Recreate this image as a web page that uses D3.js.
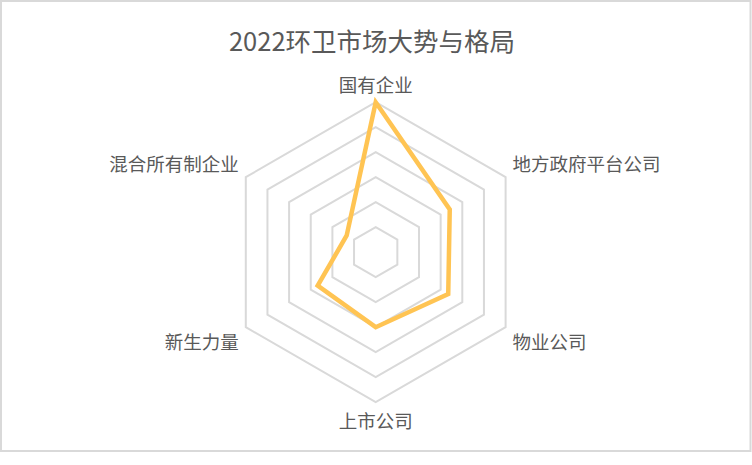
<!DOCTYPE html>
<html>
    <head>
        <meta charset="utf-8">
        <style>
            body { margin: 0; background: #fff; }
            text { font-family: "Noto Sans CJK SC", "Noto Sans", sans-serif; }
        </style>
    </head>
    <body>

        <svg id="radar"></svg>

        <script src="https://cdn.jsdelivr.net/npm/d3@7/dist/d3.min.js"></script>
        <script>

            let title = "2022环卫市场大势与格局";
            let categories = ["国有企业", "地方政府平台公司", "物业公司", "上市公司", "新生力量", "混合所有制企业"];
            let values = [6, 3.42, 3.35, 3.0, 2.68, 1.34];
            let levels = [1, 2, 3, 4, 5, 6];

            let width = 752;
            let height = 465;
            let cx = 375.7;
            let cy = 252.2;
            let radius = 150;

            let container = d3.select("#radar")
                                .attr("width", width)
                                .attr("height", height);

            // frame
            container.append("rect")
                .attr("x", 1).attr("y", 1)
                .attr("width", width - 2.5).attr("height", 450)
                .attr("fill", "white")
                .attr("stroke", "#d9d9d9")
                .attr("stroke-width", 2);

            container.append("text")
                .attr("x", 372)
                .attr("y", 39)
                .attr("text-anchor", "middle")
                .attr("dominant-baseline", "central")
                .attr("font-size", 25.5)
                .attr("fill", "#595959")
                .text(title);

            let r = d3.scaleLinear().domain([0, 6]).range([0, radius]);
            let angle = d3.scalePoint().domain(categories.concat(["_end"])).range([0, 2 * Math.PI]);

            let g = container.append("g").attr("transform", `translate(${cx},${cy})`);

            let ring = d3.lineRadial()
                            .angle(d => angle(d.cat))
                            .radius(d => r(d.v))
                            .curve(d3.curveLinearClosed);

            g.append("g")
                .attr("class", "rings")
                .selectAll("path")
                .data(levels)
                .enter()
                .append("path")
                .attr("d", l => ring(categories.map(c => ({cat: c, v: l}))))
                .attr("fill", "none")
                .attr("stroke", "#d9d9d9")
                .attr("stroke-width", 2);

            g.append("path")
                .attr("class", "series")
                .attr("d", ring(categories.map((c, i) => ({cat: c, v: values[i]}))))
                .attr("fill", "none")
                .attr("stroke", "#ffc453")
                .attr("stroke-width", 4.5)
                .attr("stroke-linejoin", "miter");

            g.append("g")
                .attr("class", "labels")
                .selectAll("text")
                .data(categories)
                .enter()
                .append("text")
                .each(function(c){
                    let a = angle(c);
                    let dx = Math.sin(a);
                    let dy = -Math.cos(a);
                    let p = r(6) + 8;
                    let x = dx * p;
                    let y = dy * p;
                    if (dy < -0.1) y -= 10;
                    if (dy > 0.1) y += 10;
                    d3.select(this)
                        .attr("x", x)
                        .attr("y", y)
                        .attr("text-anchor", dx > 0.1 ? "start" : (dx < -0.1 ? "end" : "middle"));
                })
                .attr("dominant-baseline", "central")
                .attr("font-size", 18.5)
                .attr("fill", "#595959")
                .text(c => c);

        </script>
    </body>
</html>
